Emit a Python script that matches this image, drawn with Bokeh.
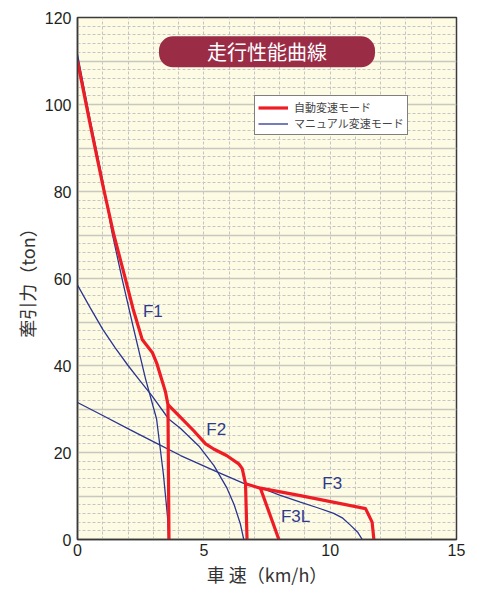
from bokeh.plotting import figure
from bokeh.models import ColumnDataSource, FixedTicker, Grid, Label, Legend, LegendItem, Range1d
from bokeh.core.properties import value
from bokeh.embed import file_html
from bokeh.resources import INLINE

# ---- data ----
x_ticks = [0, 5, 10, 15]
y_ticks = [0, 20, 40, 60, 80, 100, 120]

# automatic shift mode (red)
red_f1_x = [0, 0.5, 1.0, 1.44, 1.87, 2.2, 2.56, 2.96, 3.15, 3.32, 3.48, 3.58, 3.62]
red_f1_y = [110, 95.5, 81.5, 70, 60.5, 53, 46, 43, 40.3, 37, 34, 31, 0]
red_f2_x = [3.58, 4.08, 4.6, 5.07, 5.39, 5.9, 6.38, 6.52, 6.65, 6.71]
red_f2_y = [31, 28.1, 25, 22, 20.8, 19.3, 17.4, 16.3, 12.8, 0]
red_f3_x = [6.65, 7.24, 8.82, 11.4, 11.66, 11.73]
red_f3_y = [12.8, 11.8, 10.1, 7.1, 4.0, 0]
red_f3l_x = [7.24, 7.97]
red_f3l_y = [11.8, 0]

# manual shift mode (blue)
blue_f1_x = [0, 0.5, 1.0, 1.35, 1.77, 2.2, 2.69, 3.13, 3.4, 3.57, 3.6]
blue_f1_y = [111.5, 96.5, 82.5, 71, 59.8, 49, 37, 27.7, 15, 4.8, 0]
blue_f2_x = [0, 0.5, 1.0, 1.5, 2.0, 2.5, 2.95, 3.61, 4.08, 4.8, 5.4, 5.9, 6.2, 6.45, 6.58]
blue_f2_y = [58.5, 53.3, 48.3, 44, 40, 36.3, 33, 27.7, 25.5, 21.5, 17, 12, 8, 3.5, 0]
blue_f3_x = [0, 1.0, 2.09, 3.0, 4.08, 5.5, 6.58, 7.24, 8.0, 8.82, 9.5, 10.14, 10.5, 10.8, 11.1, 11.27]
blue_f3_y = [31.5, 28.5, 25.2, 22.5, 19.3, 15.6, 12.9, 11.9, 10.2, 8.6, 7.3, 6.0, 4.9, 3.3, 1.6, 0]

gear_labels = ["F1", "F2", "F3", "F3L"]
gear_label_x = [2.98, 5.49, 10.08, 8.63]
gear_label_y = [52.4, 25.4, 12.8, 5.2]

title_text = "走行性能曲線"
legend_labels = ["自動変速モード", "マニュアル変速モード"]

# ---- figure ----
p = figure(width=480, height=589, x_range=Range1d(0, 15), y_range=Range1d(0, 120),
           output_backend="svg", toolbar_location=None,
           min_border_left=77, min_border_right=24, min_border_top=17, min_border_bottom=48)
p.background_fill_color = "#fdfbe4"
p.border_fill_color = "white"
p.outline_line_color = "#3a3a3a"
p.outline_line_width = 1.5

for ax in (p.xaxis[0], p.yaxis[0]):
    ax.major_tick_out = 0
    ax.major_tick_in = 0
    ax.minor_tick_out = 0
    ax.minor_tick_in = 0
    ax.axis_line_color = "#3a3a3a"
    ax.axis_line_width = 1.5
    ax.major_label_text_font = "Liberation Sans"
    ax.major_label_text_font_size = "16px"
    ax.major_label_text_color = "#231f20"
    ax.axis_label_text_font = "Noto Sans CJK JP"
    ax.axis_label_text_font_size = "18px"
    ax.axis_label_text_font_style = "normal"
    ax.axis_label_text_color = "#333333"

p.xaxis.ticker = FixedTicker(ticks=x_ticks)
p.yaxis.ticker = FixedTicker(ticks=y_ticks)
p.xaxis.major_label_standoff = 4
p.yaxis.major_label_standoff = 6
p.xaxis.axis_label_standoff = 2
p.yaxis.axis_label_standoff = 2
p.xaxis.axis_label = "車 速（km/h）"
p.yaxis.axis_label = "牽引力（ton）"

p.xgrid.ticker = FixedTicker(ticks=list(range(0, 16)))
p.xgrid.grid_line_color = "#c4c4c4"
p.xgrid.grid_line_dash = "3 2"
p.ygrid.ticker = FixedTicker(ticks=list(range(0, 121, 10)))
p.ygrid.grid_line_color = "#c8c8bf"
p.ygrid.grid_line_width = 1.3
minor_y = Grid(dimension=1, ticker=FixedTicker(ticks=[v for v in range(0, 121, 2) if v % 10]),
               grid_line_color="#c4c4c4", grid_line_dash="3 2")
p.add_layout(minor_y)

blue_src = ColumnDataSource(dict(xs=[blue_f1_x, blue_f2_x, blue_f3_x],
                                 ys=[blue_f1_y, blue_f2_y, blue_f3_y]))
red_src = ColumnDataSource(dict(xs=[red_f1_x, red_f2_x, red_f3_x, red_f3l_x],
                                ys=[red_f1_y, red_f2_y, red_f3_y, red_f3l_y]))
r_blue = p.multi_line("xs", "ys", source=blue_src, line_color="#2b3590", line_width=1.3)
r_red = p.multi_line("xs", "ys", source=red_src, line_color="#ee1c25", line_width=3.2,
                     line_join="round")

p.text(x=gear_label_x, y=gear_label_y, text=gear_labels, text_font=value("Liberation Sans"),
       text_font_size="17px", text_color="#2f3a8f", text_align="center", text_baseline="middle")

title = Label(x=7.5, y=112.1, text=title_text, text_align="center", text_baseline="middle",
              text_color="white", text_font="Noto Sans CJK JP", text_font_size="20px",
              background_fill_color="#9b2c46", border_radius=14, padding=(48, 1))
p.add_layout(title)

legend = Legend(items=[LegendItem(label=legend_labels[0], renderers=[r_red]),
                       LegendItem(label=legend_labels[1], renderers=[r_blue])],
                location=(177, 404), label_text_font="Noto Sans CJK JP",
                label_text_font_size="11px", glyph_width=30, glyph_height=15,
                label_height=15, spacing=0, padding=3, margin=0,
                border_line_color="black", border_line_width=1, label_standoff=6,
                background_fill_color="white", background_fill_alpha=1)
p.add_layout(legend)

open("out.html", "w").write(file_html(p, INLINE))
